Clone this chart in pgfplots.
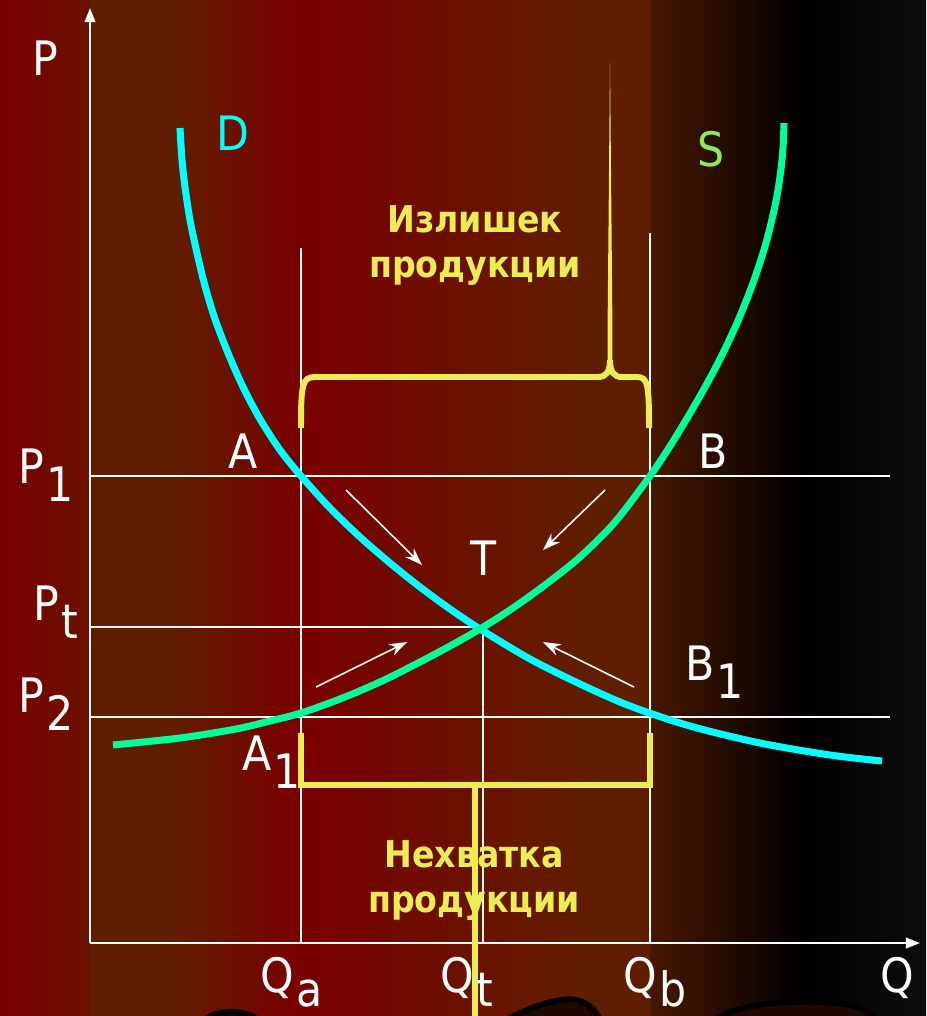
\documentclass[border=0pt]{standalone}
\usepackage{fontspec}
\setmainfont{DejaVu Sans Condensed}
\usepackage{pgfplots}
\pgfplotsset{compat=1.18}
\usetikzlibrary{arrows.meta}
\definecolor{bgred}{RGB}{122,0,0}
\definecolor{bgredb}{RGB}{106,18,0}
\definecolor{bgbrown}{RGB}{96,30,0}
\definecolor{bgdark}{RGB}{72,24,0}
\definecolor{bgend}{RGB}{12,12,12}
\definecolor{dcol}{RGB}{0,255,255}
\definecolor{scol}{RGB}{0,255,153}
\definecolor{slab}{RGB}{136,238,85}
\definecolor{ycol}{RGB}{236,236,85}
\newcommand{\lab}{\fontsize{13.5pt}{16pt}\selectfont}
\newcommand{\sub}[1]{\kern0.5pt\raisebox{-5.3pt}{#1}}
\newcommand{\qsub}[1]{\kern0.5pt\raisebox{-4pt}{#1}}
\begin{document}
\begin{tikzpicture}
\useasboundingbox (0,0) rectangle (9.26cm,10.16cm);
\clip (0,0) rectangle (9.26cm,10.16cm);
\begin{axis}[scale only axis,width=9.26cm,height=10.16cm,at={(0,0)},anchor=south west,
  xmin=0,xmax=926,ymin=0,ymax=1016,y dir=reverse,hide axis,clip=false]
% background panels
\shade[left color=bgred,right color=bgredb] (0,0) rectangle (90,1016);
\fill[bgbrown] (90,0) rectangle (170,1016);
\shade[left color=bgbrown,right color=bgred] (170,0) rectangle (301,1016);
\shade[left color=bgred,right color=bgbrown] (301,0) rectangle (590,1016);
\fill[bgbrown] (590,0) rectangle (650,1016);
\shade[left color=bgdark,right color=black] (650,0) rectangle (800,1016);
\shade[left color=black,right color=bgend] (800,0) rectangle (926,1016);
% ink blobs at the bottom edge
\filldraw[fill=black!80!bgbrown,draw=black,line width=1.6pt] (205,1020) .. controls (215,1010) and (245,1008) .. (258,1020);
\filldraw[fill=black!70!bgbrown,draw=black,line width=1.6pt] (505,1020) .. controls (530,1008) and (550,1000) .. (570,999) .. controls (585,1000) and (595,1008) .. (600,1020);
\filldraw[fill=black!70!bgbrown,draw=black,line width=1.6pt] (715,1020) .. controls (735,1005) and (780,1001) .. (820,1002) .. controls (850,1003) and (868,1008) .. (875,1020);
% guide lines
\addplot[white,line width=0.5pt] coordinates {(90,476)(890,476)};
\addplot[white,line width=0.5pt] coordinates {(90,627)(483,627)};
\addplot[white,line width=0.5pt] coordinates {(90,717)(890,717)};
\addplot[white,line width=0.5pt] coordinates {(301,248)(301,943)};
\addplot[white,line width=0.5pt] coordinates {(650,233)(650,943)};
\addplot[white,line width=0.5pt] coordinates {(483,627)(483,943)};
% axes
\addplot[white,line width=0.6pt,-{Triangle[length=4pt,width=3pt]}] coordinates {(90,943)(90,8)};
\addplot[white,line width=0.6pt,-{Triangle[length=4pt,width=3pt]}] coordinates {(90,943)(920,943)};
% demand and supply
\addplot[dcol,line width=2pt,smooth] coordinates {(180,128)(182,160)(185,187)(190,220)(197,253)(205,286)(215,319)(228,353)(243,387)(260,419)(280,450)(301,476)(330,508)(360,537)(390,563)(420,587)(450,609)(480,629)(530,659)(580,684)(630,706)(690,726)(760,743)(830,755)(882,761)};
\addplot[scol,line width=2pt,smooth] coordinates {(113,745)(180,738)(236,729)(270,721)(301,713)(340,699)(380,682)(420,662)(450,646)(480,629)(510,610)(545,585)(580,557)(615,522)(650,476)(672,443)(696,403)(718,363)(737,323)(753,283)(766,243)(775.6,203)(780.5,173)(783,148)(784,123)};
% adjustment arrows
\addplot[white,line width=0.45pt,-{Stealth[length=5pt,width=3.5pt]}] coordinates {(346,490)(422,565)};
\addplot[white,line width=0.45pt,-{Stealth[length=5pt,width=3.5pt]}] coordinates {(605,490)(543,550)};
\addplot[white,line width=0.45pt,-{Stealth[length=5pt,width=3.5pt]}] coordinates {(316,687)(407,642)};
\addplot[white,line width=0.45pt,-{Stealth[length=5pt,width=3.5pt]}] coordinates {(634,687)(543,642)};
% surplus brace
\draw[ycol,line width=1.7pt] (301,428) .. controls (301,385) and (302,377) .. (315,377) -- (598,377) .. controls (606,377) and (610,372) .. (610,360);
\draw[ycol,line width=1.7pt] (610,360) .. controls (610,372) and (614,377) .. (622,377) -- (637,377) .. controls (648,377) and (649,385) .. (649,428);
\fill[ycol] (607.6,365) -- (607.6,323) -- (610,62) -- (612.4,323) -- (612.4,365) -- cycle;
% shortage bracket
\draw[ycol,line width=1.5pt] (301,733) -- (301,785) -- (650,785) -- (650,733);
\draw[ycol,line width=1.5pt] (475,785) -- (475,1020);
% labels
\begin{scope}[every node/.style={inner sep=0pt,anchor=base west,text=white,font=\lab}]
\node at (32,75) {P};
\node[text=dcol] at (216,150) {D};
\node[text=slab] at (697,166) {S};
\node at (18,483) {P\sub{1}};
\node at (33,620) {P\sub{t}};
\node at (18,712) {P\sub{2}};
\node at (228,468) {A};
\node at (698,468) {B};
\node at (470,575) {T};
\node at (685,680) {B\sub{1}};
\node at (242,770) {A\sub{1}};
\node at (260,992) {Q\qsub{a}};
\node at (440,992) {Q\qsub{t}};
\node at (623,992) {Q\qsub{b}};
\node at (880,992) {Q};
\end{scope}
\begin{scope}[every node/.style={inner sep=0pt,anchor=base,text=ycol,font=\fontsize{10.5pt}{12pt}\selectfont\bfseries}]
\node at (475,232) {Излишек};
\node at (475,277) {продукции};
\node at (474,867) {Нехватка};
\node at (474,912) {продукции};
\end{scope}
\end{axis}
\end{tikzpicture}
\end{document}
